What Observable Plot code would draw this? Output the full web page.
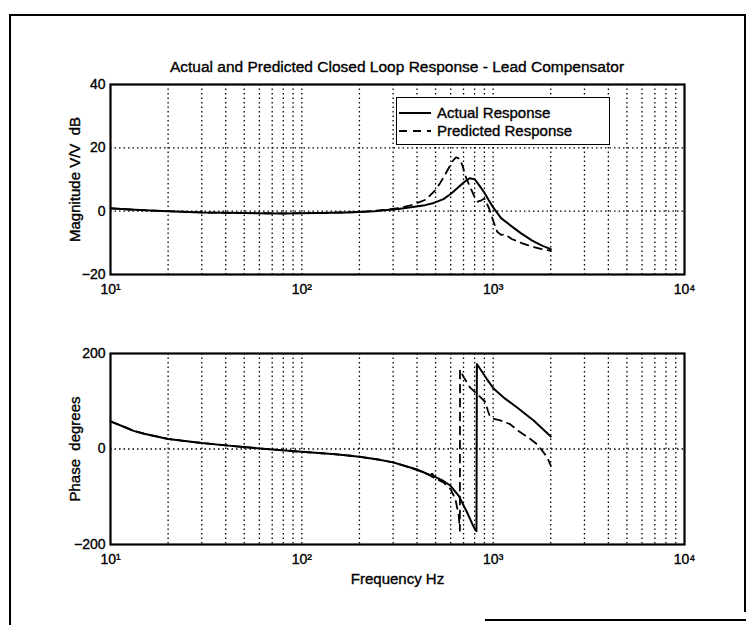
<!DOCTYPE html>
<html>
<head>
<meta charset="utf-8">
<script src="https://cdn.jsdelivr.net/npm/d3@7"></script>
<script src="https://cdn.jsdelivr.net/npm/@observablehq/plot@0.6"></script>
<style>
  html, body { margin: 0; padding: 0; background: #fff; }
  #page { position: relative; width: 751px; height: 625px; background: #fff; overflow: hidden;
          font-family: "Liberation Sans", Arial, Helvetica, sans-serif; color: #000; }
  .abs { position: absolute; }
  .line { position: absolute; background: #000; }
  #title { left: 97px; width: 600px; top: 58px; text-align: center; font-size: 15.5px; line-height: 18px;
           -webkit-text-stroke: 0.35px #000; }
  #legend { left: 396px; top: 97px; width: 212px; height: 46px; border: 1.5px solid #000; background: #fff; }
  .lrow { position: absolute; left: 0; height: 18px; font-size: 15px; line-height: 18px; white-space: nowrap;
          -webkit-text-stroke: 0.35px #000; }
  .lrow svg { position: absolute; left: 2px; top: 0; }
  .lrow span { position: absolute; left: 40px; top: 0; }
  #page svg text { stroke: #000; stroke-width: 0.35px; }
</style>
</head>
<body>
<div id="page">
  <div class="line" style="left:9px;top:14px;width:2px;height:611px;"></div>
  <div class="line" style="left:9px;top:14px;width:737px;height:2px;"></div>
  <div class="line" style="left:744px;top:14px;width:2px;height:598px;"></div>
  <div class="line" style="left:485px;top:619px;width:261px;height:2px;"></div>
  <div id="top" class="abs" style="left:0;top:0;"></div>
  <div id="bottom" class="abs" style="left:0;top:300px;"></div>
  <div id="title" class="abs"></div>
  <div id="legend" class="abs">
    <div class="lrow" style="top:6px;">
      <svg width="34" height="18"><line x1="0" y1="9" x2="32" y2="9" stroke="#000" stroke-width="2"/></svg>
      <span id="legA"></span>
    </div>
    <div class="lrow" style="top:24px;">
      <svg width="34" height="18"><line x1="0" y1="9" x2="32" y2="9" stroke="#000" stroke-width="2" stroke-dasharray="8,6"/></svg>
      <span id="legP"></span>
    </div>
  </div>
</div>
<script>
// ---------- data ----------
const titleText = "Actual and Predicted Closed Loop Response - Lead Compensator";
const seriesNames = ["Actual Response", "Predicted Response"];
const xTicks = [10, 100, 1000, 10000];
const xTickLabels = ["10\u00B9", "10\u00B2", "10\u00B3", "10\u2074"];
const gridX = [20,30,40,50,60,70,80,90,100,200,300,400,500,600,700,800,900,1000,2000,3000,4000,5000,6000,7000,8000,9000];
const magTicks = [-20, 0, 20, 40];
const magGridY = [0, 20];
const phaseTicks = [-200, 0, 200];
const phaseGridY = [0];

// Magnitude (dB)
const magFreqA = [10, 12, 15, 20, 30, 50, 80, 120, 170, 210, 240, 270, 320, 380, 440, 490, 550, 604, 660, 708, 754, 800, 850, 900, 950, 1000, 1100, 1250, 1400, 1600, 1800, 2000];
const magA     = [0.9, 0.6, 0.3, 0, -0.4, -0.6, -0.7, -0.6, -0.4, -0.2, 0, 0.3, 0.7, 1.3, 1.9, 2.6, 3.8, 5.6, 7.6, 9.3, 10.4, 10.1, 8.0, 5.8, 3.4, 1.2, -2.2, -4.8, -7.0, -9.3, -10.9, -12.0];
const magFreqP = [10, 12, 15, 20, 30, 50, 80, 120, 170, 210, 240, 270, 320, 370, 443, 496, 526, 560, 593, 617, 640, 670, 695, 710, 740, 770, 800, 830, 860, 900, 950, 1000, 1050, 1100, 1150, 1250, 1400, 1600, 1800, 2000];
const magP     = [0.9, 0.6, 0.3, 0, -0.4, -0.6, -0.7, -0.6, -0.4, -0.2, 0.1, 0.4, 1.0, 1.8, 3.6, 6.5, 8.7, 11.5, 14.2, 16.0, 17.0, 16.5, 14.0, 11.7, 9.0, 6.7, 4.4, 3.0, 3.3, 4.0, 1.0, -3.0, -6.5, -7.5, -7.3, -8.8, -10.0, -11.2, -12.0, -12.5];

// Phase (degrees)
const phFreqA = [10, 12, 13.2, 15, 20, 30, 40, 50, 70, 100, 150, 200, 250, 300, 330, 400, 470, 480, 490, 500, 550, 599, 661, 731, 780, 808, 818, 822, 925, 1008, 1150, 1334, 1633, 2000];
const phA     = [58, 45, 38, 32, 21, 12.5, 7.6, 4, -1, -6, -11, -16, -22, -28, -33, -43, -55, -52, -57, -59, -67, -77, -98, -133, -158, -170, -172, 178, 147, 126, 106, 87, 59, 26];
const phFreqP = [10, 12, 13.2, 15, 20, 30, 40, 50, 70, 100, 150, 200, 250, 300, 330, 400, 450, 500, 550, 599, 635, 661, 670, 671, 702, 757, 830, 913, 938, 958, 1008, 1090, 1225, 1352, 1437, 1564, 1695, 1800, 1914, 2000];
const phP     = [58, 45, 38, 32, 21, 12.5, 7.6, 4, -1, -6, -11, -16, -22, -28, -33, -44, -52, -62, -70, -84, -105, -140, -171, 166, 150, 129, 114, 98, 80, 70, 63, 60, 52, 38, 31, 21, 10, -3, -17, -35];

// ---------- build ----------
document.getElementById("title").textContent = titleText;
document.getElementById("legA").textContent = seriesNames[0];
document.getElementById("legP").textContent = seriesNames[1];
const rows = (fs, vs) => fs.map((f, i) => ({f, v: vs[i]}));
const fontFamily = '"Liberation Sans", Arial, Helvetica, sans-serif';
const tickFmt = d => xTickLabels[xTicks.indexOf(d)];
const gridStyle = {stroke: "#000", strokeWidth: 1.3, strokeDasharray: "1.5,3"};

function panel({height, mt, mb, yDomain, yTicks, yGrid, yLabel, xLabel, dataA, dataP}) {
  const marks = [
    Plot.ruleX(gridX, gridStyle),
    Plot.ruleY(yGrid, gridStyle),
    Plot.line(dataP, {x: "f", y: "v", stroke: "#000", strokeWidth: 1.8, strokeDasharray: "8,6"}),
    Plot.line(dataA, {x: "f", y: "v", stroke: "#000", strokeWidth: 2}),
    Plot.frame({stroke: "#000", strokeWidth: 2.2}),
    Plot.axisX({ticks: xTicks, tickFormat: tickFmt, tickSize: 0, tickPadding: 10, fontSize: 14, label: null}),
    Plot.axisY({ticks: yTicks, tickSize: 0, tickPadding: 5, fontSize: 14, label: null}),
    Plot.axisY({ticks: [], tickSize: 0, fontSize: 15, label: yLabel, labelAnchor: "center", labelOffset: 41, labelArrow: "none"})
  ];
  if (xLabel) marks.push(Plot.axisX({ticks: [], tickSize: 0, fontSize: 15, label: xLabel, labelAnchor: "center", labelOffset: 39, labelArrow: "none"}));
  return Plot.plot({
    width: 751, height,
    marginLeft: 110, marginRight: 67, marginTop: mt, marginBottom: mb,
    style: {fontFamily, fontSize: "14px", background: "transparent", color: "#000", overflow: "visible"},
    x: {type: "log", domain: [10, 10000]},
    y: {domain: yDomain},
    marks
  });
}

document.getElementById("top").appendChild(panel({
  height: 300, mt: 84, mb: 26, yDomain: [-20, 40], yTicks: magTicks, yGrid: magGridY,
  yLabel: "Magnitude V/V  dB", xLabel: null,
  dataA: rows(magFreqA, magA), dataP: rows(magFreqP, magP)
}));
document.getElementById("bottom").appendChild(panel({
  height: 325, mt: 53, mb: 81, yDomain: [-200, 200], yTicks: phaseTicks, yGrid: phaseGridY,
  yLabel: "Phase  degrees", xLabel: "Frequency Hz",
  dataA: rows(phFreqA, phA), dataP: rows(phFreqP, phP)
}));
</script>
</body>
</html>
